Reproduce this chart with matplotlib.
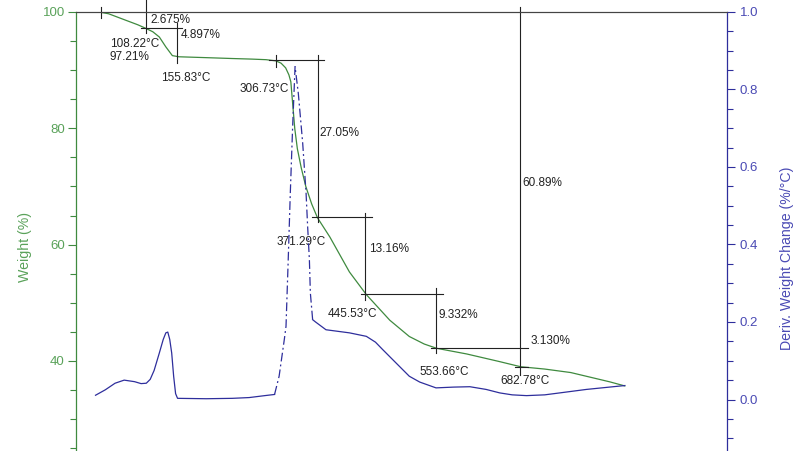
import numpy as np
import matplotlib
matplotlib.use("Agg")
import matplotlib.pyplot as plt
from matplotlib.ticker import MultipleLocator

# -----------------------------
# DATA (read off the TGA / DTG plot)
# -----------------------------

# weight curve
temp_w = [35, 50, 76, 95, 107, 118, 128, 138, 148, 158, 200, 240, 270, 292,
          307, 315, 322, 327, 330, 333, 336, 340, 346, 353, 362, 371, 390,
          420, 446, 482, 512, 535, 554, 600, 650, 683, 720, 760, 790, 820, 843]
weight = [100, 99.7, 98.6, 97.8, 97.2, 96.6, 95.7, 94.0, 92.5, 92.3, 92.15,
          92.0, 91.9, 91.8, 91.6, 91.2, 90.4, 89.2, 88.0, 84.0, 80.0, 76.5,
          73.2, 70.0, 67.0, 64.6, 61.3, 55.3, 51.4, 47.0, 44.2, 42.9, 42.17,
          41.2, 39.9, 39.0, 38.6, 38.0, 37.2, 36.4, 35.7]

# derivative curve
temp_d = [30, 45, 60, 74, 90, 100, 108, 114, 120, 128, 134, 138, 141, 144,
          147, 150, 153, 156, 200, 240, 266, 290, 305, 312, 320, 322.6, 326,
          329.2, 332.8, 336.5, 341.5, 348.2, 353.4, 355.8, 358.5, 360, 363.5,
          368, 384, 420, 446, 460, 471, 490, 512, 528, 553, 580, 605, 630,
          651, 670, 692, 720, 743, 784, 843]
deriv = [0.011, 0.025, 0.042, 0.050, 0.046, 0.041, 0.042, 0.052, 0.075, 0.12,
         0.155, 0.172, 0.174, 0.155, 0.12, 0.06, 0.015, 0.003, 0.002, 0.003,
         0.005, 0.010, 0.013, 0.06, 0.155, 0.189, 0.361, 0.533, 0.705, 0.859,
         0.79, 0.662, 0.533, 0.447, 0.361, 0.275, 0.206, 0.20, 0.18, 0.172,
         0.163, 0.148, 0.129, 0.097, 0.06, 0.045, 0.030, 0.032, 0.033, 0.026,
         0.017, 0.012, 0.010, 0.012, 0.017, 0.026, 0.036]

# step annotations: onset temperatures and weight losses
step_temps = [108.22, 155.83, 306.73, 371.29, 445.53, 553.66, 682.78]
step_weights = [97.21, 92.31, 91.75, 64.70, 51.45, 42.17, 39.00]
loss_labels = ["2.675%", "4.897%", "27.05%", "13.16%", "9.332%", "3.130%"]
total_loss = "60.89%"

GREEN = "#3f8a3f"
GREEN_TXT = "#5aa25a"
BLUE = "#2e2e9c"
BLUE_TXT = "#4a4ab4"
INK = "#222222"

plt.rcParams["font.family"] = ["Liberation Sans", "DejaVu Sans"]

# -----------------------------
# FIGURE
# -----------------------------

fig = plt.figure(figsize=(8, 4.51), dpi=100)
ax = fig.add_axes([0.095, 0.0, 0.81375, 0.9734])
ax2 = ax.twinx()

ax.set_xlim(0, 1000)
ax.set_ylim(24.51, 100)
ax2.set_ylim(-0.1329, 1.0)

# weight
ax.plot(temp_w, weight, color=GREEN, lw=0.9, zorder=3)

# derivative: steep part looks dash-dot in the original
td = np.array(temp_d)
dd = np.array(deriv)
steep = (td >= 305) & (td <= 364)
flat_y = np.where(steep & (td > 305) & (td < 363.5), np.nan, dd)
ax2.plot(td, flat_y, color=BLUE, lw=0.9)
ax2.plot(td[steep], dd[steep], color=BLUE, lw=0.9, dashes=(7, 2.5, 1.5, 2.5))

# -----------------------------
# ANNOTATION LINES
# -----------------------------

line_kw = dict(color=INK, lw=0.8, clip_on=False, zorder=4)
t = step_temps
w = step_weights

ax.plot([38, 38], [100.9, 98.9], **line_kw)
ax.plot([t[0], t[0]], [102.0, 96.4], **line_kw)
ax.plot([99.5, 163.5], [w[0], w[0]], **line_kw)
ax.plot([t[1], t[1]], [98.1, 91.3], **line_kw)
ax.plot([t[2], t[2]], [92.6, 90.5], **line_kw)
ax.plot([297, 381.5], [w[2], w[2]], **line_kw)
ax.plot([t[3], t[3]], [92.6, 63.9], **line_kw)
ax.plot([363, 455.4], [w[3], w[3]], **line_kw)
ax.plot([t[4] - 0.9, t[4] - 0.9], [65.5, 50.5], **line_kw)
ax.plot([438, 563.5], [w[4], w[4]], **line_kw)
ax.plot([t[5], t[5]], [52.5, 41.3], **line_kw)
ax.plot([545.7, 694.3], [w[5], w[5]], **line_kw)
ax.plot([t[6], t[6]], [100.86, 37.6], **line_kw)
ax.plot([673.8, 693.8], [w[6], w[6]], **line_kw)

# -----------------------------
# ANNOTATION TEXT
# -----------------------------

txt_kw = dict(fontsize=8.5, color=INK, va="center", ha="left", zorder=5)
ax.text(114.9, 98.6, loss_labels[0], **txt_kw)
ax.text(161.5, 96.0, loss_labels[1], **txt_kw)
ax.text(52.3, 94.5, f"{t[0]:.2f}°C", **txt_kw)
ax.text(50.8, 92.26, f"{w[0]:.2f}%", **txt_kw)
ax.text(130.8, 88.65, f"{t[1]:.2f}°C", **txt_kw)
ax.text(327.7, 86.76, f"{t[2]:.2f}°C", fontsize=8.5, color=INK,
        va="center", ha="right", zorder=5)
ax.text(373.8, 79.24, loss_labels[2], **txt_kw)
ax.text(307.7, 60.5, f"{t[3]:.2f}°C", **txt_kw)
ax.text(449.7, 59.2, loss_labels[3], **txt_kw)
ax.text(386.6, 48.07, f"{t[4]:.2f}°C", **txt_kw)
ax.text(557.4, 47.9, loss_labels[4], **txt_kw)
ax.text(527.7, 38.14, f"{t[5]:.2f}°C", **txt_kw)
ax.text(698.5, 43.4, loss_labels[5], **txt_kw)
ax.text(651.8, 36.54, f"{t[6]:.2f}°C", **txt_kw)
ax.text(686, 70.6, total_loss, **txt_kw)

# -----------------------------
# AXES STYLE
# -----------------------------

for a in (ax, ax2):
    a.spines["bottom"].set_visible(False)
    a.spines["top"].set_color("#444444")
    a.spines["top"].set_linewidth(0.8)
ax.spines["right"].set_visible(False)
ax2.spines["left"].set_visible(False)
ax.spines["left"].set_color(GREEN)
ax2.spines["right"].set_color(BLUE)
ax.spines["left"].set_linewidth(0.9)
ax2.spines["right"].set_linewidth(0.9)

ax.set_xticks([])
ax.yaxis.set_major_locator(MultipleLocator(20))
ax.yaxis.set_minor_locator(MultipleLocator(5))
ax2.yaxis.set_major_locator(MultipleLocator(0.2))
ax2.yaxis.set_minor_locator(MultipleLocator(0.05))
ax2.set_yticks(np.arange(0.0, 1.01, 0.2))

ax.tick_params(axis="y", which="major", length=6, width=0.8, color=GREEN,
               labelcolor=GREEN_TXT, labelsize=9.5, pad=2)
ax.tick_params(axis="y", which="minor", length=4, width=0.8, color=GREEN)
ax2.tick_params(axis="y", which="major", length=6, width=0.8, color=BLUE,
                labelcolor=BLUE_TXT, labelsize=9.5, pad=3)
ax2.tick_params(axis="y", which="minor", length=4, width=0.8, color=BLUE)
ax2.yaxis.set_major_formatter(plt.FormatStrFormatter("%.1f"))

ax.set_ylabel("Weight (%)", color=GREEN_TXT, fontsize=10.2)
ax.yaxis.set_label_coords(-0.068, 0.465)
ax2.set_ylabel("Deriv. Weight Change (%/°C)", color=BLUE_TXT, fontsize=10.2)
ax2.yaxis.set_label_coords(1.081, 0.44)

fig.savefig("out.png", dpi=100)
